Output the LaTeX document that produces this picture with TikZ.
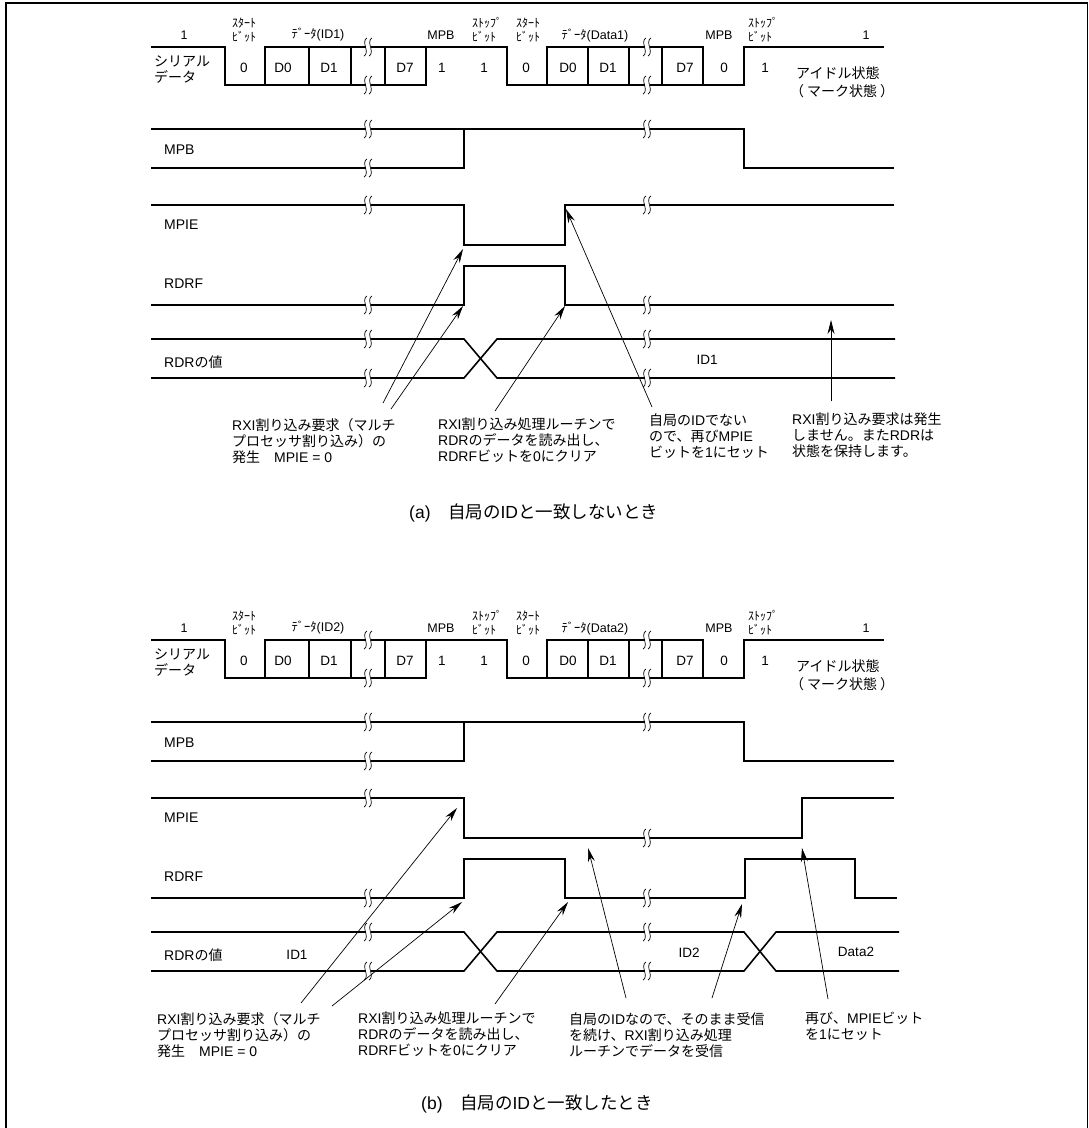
\documentclass[tikz,border=0pt]{standalone}
\usepackage{fontspec}
\setmainfont{Liberation Sans}
\newfontfamily\jpfont{Noto Sans CJK JP}
\newcommand{\jp}[1]{{\jpfont #1}}
\usetikzlibrary{arrows.meta}

% frame bits and MPB trace, the same in both panels
\newcommand{\panelhead}[2]{
  \draw[sigline] (151,47) -- (225,47) -- (225,85) -- (426,85) -- (426,47) -- (265,47) -- (265,85);
  \draw[sigline] (426,47) -- (507,47) -- (507,85) -- (744,85) -- (744,47) -- (884,47);
  \draw[sigline] (547,85) -- (547,47) -- (703,47) -- (703,85);
  \foreach \x in {309,351,385,588,629,662}
    \draw[sigline] (\x,47) -- (\x,85);
  \node[sidelabel] (serial) at (154,70) {\jp{シリアル}\\\jp{データ}};
  \foreach \n/\x/\t in {idleA/184/1,mpbA/441/MPB,mpbB/719/MPB,idleB/866/1}
    \node[headlabel] (\n) at (\x,35) {\t};
  \node[headlabel] (dataA) at (318,34) {\jp{ﾃﾞｰﾀ}(#1)};
  \node[headlabel] (dataB) at (595,35) {\jp{ﾃﾞｰﾀ}(#2)};
  \foreach \n/\x/\t in {startA/232/ｽﾀｰﾄ,stopA/472/ｽﾄｯﾌﾟ,startB/516/ｽﾀｰﾄ,stopB/748/ｽﾄｯﾌﾟ}
    \node[kanabit] (\n) at (\x,30) {\jp{\t}\\\jp{ﾋﾞｯﾄ}};
  \foreach \n/\x/\t in {a/244/0,b/283/D0,c/329/D1,d/405/D7,e/442/1,f/484/1,g/526/0,h/568/D0,i/608/D1,j/685/D7,k/724/0,l/765/1}
    \node[bitlabel] (bit\n) at (\x,68) {\t};
  \node[sidelabel] (idle) at (790,82) {\hspace{6pt}\jp{アイドル状態}\\[2pt]\jp{（}\hspace{3pt}\jp{マーク状態}\hspace{3pt}\jp{）}};
  \node[sidelabel] (mpb) at (164,150) {MPB};
  \node[sidelabel] (mpie) at (164,225) {MPIE};
  \node[sidelabel] (rdrf) at (164,284) {RDRF};
  \node[sidelabel] (rdr) at (164,362) {RDR\jp{の値}};
  \draw[sigline] (151,129) -- (744,129) -- (744,168) -- (894,168);
  \draw[sigline] (151,168) -- (464,168) -- (464,129);
  \foreach \x/\y in {368/47,368/85,647/47,647/85,368/129,368/168,647/129}
    \pic at (\x,\y) {gapmark};
}

\begin{document}
\begin{tikzpicture}[
  x=1pt,y=-1pt,
  sigline/.style={line width=1.6pt},
  callout/.style={line width=.7pt,-{Stealth[length=14pt,width=7pt]}},
  sidelabel/.style={anchor=west,inner sep=0pt,align=left,font=\fontsize{14}{16}\selectfont},
  headlabel/.style={inner sep=0pt,font=\fontsize{12.5}{15}\selectfont},
  kanabit/.style={anchor=west,inner sep=0pt,align=left,font=\fontsize{12}{14}\selectfont},
  bitlabel/.style={inner sep=0pt,font=\fontsize{13.5}{15}\selectfont},
  note/.style={anchor=north west,inner sep=0pt,align=left,font=\fontsize{14}{16}\selectfont},
  caption/.style={anchor=west,inner sep=0pt,font=\fontsize{17.5}{20}\selectfont},
  gapmark/.pic={
    \fill[white] (-2.5,-2.5) rectangle (2.5,2.5);
    \foreach \s in {-2.5,2.5}
      \draw[line width=.7pt,xshift=\s pt] (1.5,-9) .. controls (-1.5,-8) and (-1,-3) .. (0,0)
        .. controls (1,3) and (1.5,8) .. (-1.5,9);
  }
]
  \useasboundingbox (0,0) rectangle (1088,1128);
  \draw[line width=1.7pt] (6,1128) -- (6,3) -- (1087.5,3) -- (1087.5,1128);

  % (a)
  \begin{scope}[name prefix=a-]
    \panelhead{ID1}{Data1}
    \draw[sigline] (151,205) -- (464,205) -- (464,245) -- (565,245) -- (565,205) -- (894,205);
    \draw[sigline] (151,305) -- (464,305) -- (464,266) -- (565,266) -- (565,305) -- (894,305);
    \draw[sigline] (151,339) -- (464,339) -- (497,378) -- (895,378);
    \draw[sigline] (151,378) -- (464,378) -- (497,339) -- (895,339);
    \foreach \x in {368,647}
      \foreach \y in {205,305,339,378}
        \pic at (\x,\y) {gapmark};
    \node[bitlabel] (value) at (707,360) {ID1};

    \node[note] (noteA) at (232,418) {RXI\jp{割り込み要求（マルチ}\\\jp{プロセッサ割り込み）の}\\\jp{発生　}MPIE = 0};
    \node[note] (noteB) at (438,418) {RXI\jp{割り込み処理ルーチンで}\\RDR\jp{のデータを読み出し、}\\RDRF\jp{ビットを}0\jp{にクリア}};
    \node[note] (noteC) at (649,414) {\jp{自局の}ID\jp{でない}\\\jp{ので、再び}MPIE\\\jp{ビットを}1\jp{にセット}};
    \node[note] (noteD) at (792,413) {RXI\jp{割り込み要求は発生}\\\jp{しません。また}RDR\jp{は}\\\jp{状態を保持します。}};
    \node[caption] (caption) at (409,513) {(a)\jp{　自局の}ID\jp{と一致しないとき}};

    \coordinate (tipA) at (463,249);
    \coordinate (tipB) at (463,306);
    \coordinate (tipC) at (565,306);
    \coordinate (tipD) at (566,209);
    \coordinate (tipE) at (831,320);
    \draw[callout] ([xshift=151pt,yshift=15pt]noteA.north west) -- (tipA);
    \draw[callout] ([xshift=159pt,yshift=9pt]noteA.north west) -- (tipB);
    \draw[callout] ([xshift=57pt,yshift=7pt]noteB.north west) -- (tipC);
    \draw[callout] ([xshift=3pt,yshift=7pt]noteC.north west) -- (tipD);
    \draw[callout] ([xshift=39pt,yshift=12pt]noteD.north west) -- (tipE);
  \end{scope}

  % (b)
  \begin{scope}[name prefix=b-,yshift=-593pt]
    \panelhead{ID2}{Data2}
    \draw[sigline] (151,205) -- (464,205) -- (464,245) -- (802,245) -- (802,205) -- (894,205);
    \draw[sigline] (151,305) -- (464,305) -- (464,266) -- (565,266) -- (565,305) -- (745,305) -- (745,266) -- (855,266) -- (855,305) -- (897,305);
    \draw[sigline] (151,339) -- (464,339) -- (497,378) -- (744,378) -- (776,339) -- (899,339);
    \draw[sigline] (151,378) -- (464,378) -- (497,339) -- (744,339) -- (776,378) -- (899,378);
    \foreach \x/\y in {368/205,647/245,368/305,647/305,368/339,647/339,368/378,647/378}
      \pic at (\x,\y) {gapmark};
    \node[bitlabel] (valueA) at (297,362) {ID1};
    \node[bitlabel] (valueB) at (689,360) {ID2};
    \node[bitlabel] (valueC) at (856,359) {Data2};

    \node[note] (noteA) at (157,419) {RXI\jp{割り込み要求（マルチ}\\\jp{プロセッサ割り込み）の}\\\jp{発生　}MPIE = 0};
    \node[note] (noteB) at (358,419) {RXI\jp{割り込み処理ルーチンで}\\RDR\jp{のデータを読み出し、}\\RDRF\jp{ビットを}0\jp{にクリア}};
    \node[note] (noteC) at (569,419) {\jp{自局の}ID\jp{なので、そのまま受信}\\\jp{を続け、}RXI\jp{割り込み処理}\\\jp{ルーチンでデータを受信}};
    \node[note] (noteD) at (805,419) {\jp{再び、}MPIE\jp{ビット}\\\jp{を}1\jp{にセット}};
    \node[caption] (caption) at (421,511) {(b)\jp{　自局の}ID\jp{と一致したとき}};

    \coordinate (tipA) at (457,215);
    \coordinate (tipB) at (462,309);
    \coordinate (tipC) at (568,309);
    \coordinate (tipD) at (588,255);
    \coordinate (tipE) at (742,311);
    \coordinate (tipF) at (802,255);
    \draw[callout] ([xshift=144pt,yshift=9pt]noteA.north west) -- (tipA);
    \draw[callout] ([xshift=175pt,yshift=6pt]noteA.north west) -- (tipB);
    \draw[callout] ([xshift=137pt,yshift=8pt]noteB.north west) -- (tipC);
    \draw[callout] ([xshift=57pt,yshift=14pt]noteC.north west) -- (tipD);
    \draw[callout] ([xshift=143pt,yshift=14pt]noteC.north west) -- (tipE);
    \draw[callout] ([xshift=23pt,yshift=13pt]noteD.north west) -- (tipF);
  \end{scope}
\end{tikzpicture}
\end{document}
